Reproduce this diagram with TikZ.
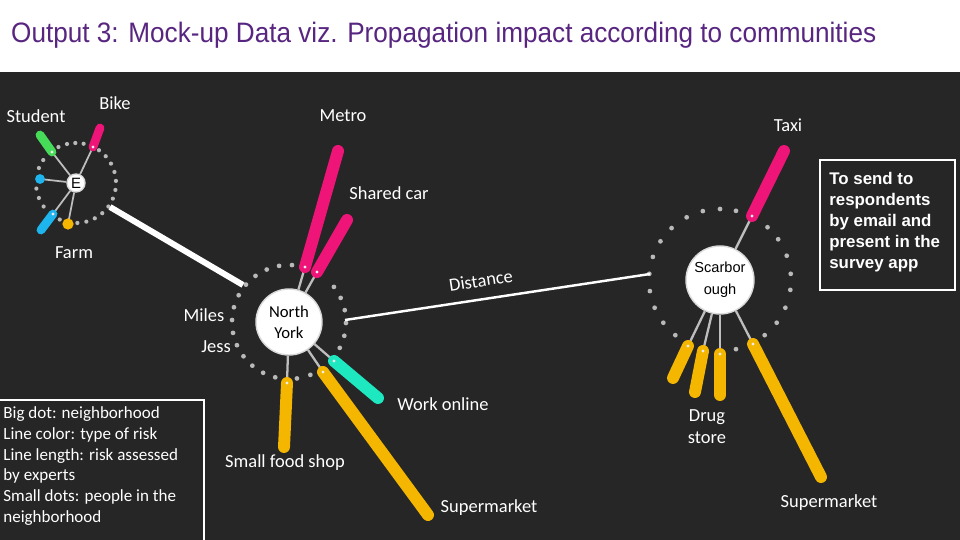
\documentclass[tikz,border=0pt]{standalone}
\usepackage{fontspec}
\setmainfont{Carlito}
\newfontfamily\arialfont{Liberation Sans}
\definecolor{panel}{RGB}{38,38,38}
\definecolor{titlepurple}{RGB}{88,38,128}
\definecolor{riskpink}{RGB}{238,20,120}
\definecolor{riskgreen}{RGB}{70,220,90}
\definecolor{riskblue}{RGB}{30,180,238}
\definecolor{riskyellow}{RGB}{245,182,0}
\definecolor{riskteal}{RGB}{30,232,192}
\definecolor{dotgray}{RGB}{185,185,185}
\definecolor{linkgray}{RGB}{190,190,190}

\begin{document}
\begin{tikzpicture}[
    x=0.02cm, y=-0.02cm,
    hub/.style={circle, fill=white, draw=black!15, line width=0.8pt, text=black, inner sep=0pt, align=center},
    link/.style={draw=linkgray, line width=1.3pt},
    risk/.style={line width=6.8pt, line cap=round},
    smallrisk/.style={line width=5pt, line cap=round},
    lbl/.style={text=white, font=\fontsize{10.5}{12.5}\selectfont},
    ringdot/.style={fill=dotgray},
    tip/.style={fill=white!85!gray}
]

\useasboundingbox (0,0) rectangle (960,540);
\fill[white] (0,0) rectangle (960,72);
\fill[panel] (0,72) rectangle (960,540);

\node[anchor=west, text=titlepurple, font=\arialfont\fontsize{16}{19}\selectfont] (title) at (5,35)
  {\scalebox{0.93}[1]{Output 3: Mock-up Data viz. Propagation impact according to communities}};

% hubs
\node[hub, minimum size=0.36cm, font=\arialfont\fontsize{8.5}{9}\selectfont] (e) at (76,183) {E};
\node[hub, minimum size=1.32cm, font=\fontsize{9.5}{12}\selectfont] (ny) at (289,322) {North\\York};
\node[hub, minimum size=1.36cm, font=\arialfont\fontsize{8.3}{12.5}\selectfont] (sc) at (720,280) {Scarbor\\ough};

% rings of people
\foreach \a in {-88,-75,...,55,79,91,103,116,145,158,-172,-158,-144,-114}
  \fill[ringdot] (e) ++({-\a}:40) circle[radius=1.2pt];
\foreach \a in {87,100,...,256,-82,-68,-27,-14,...,46}
  \fill[ringdot] (ny) ++({-\a}:57) circle[radius=1.35pt];
\foreach \a in {77,90,104,118,133,147,161,175,189,203,217,231,-77,-51,-37,-23,-8,5,20,35,48}
  \fill[ringdot] (sc) ++({-\a}:71) circle[radius=1.35pt];

% end points of the risk lines
\coordinate (stuA) at (52,152);   \coordinate (stuB) at (40,135);
\coordinate (bikeA) at (93,147);  \coordinate (bikeB) at (100,128);
\coordinate (blueA) at (53,214);  \coordinate (blueB) at (41,230);
\coordinate (bluedot) at (40,179);
\coordinate (farmdot) at (68,224);

\coordinate (metroA) at (305,267); \coordinate (metroB) at (338,151);
\coordinate (carA) at (317,272);   \coordinate (carB) at (347,220);
\coordinate (workA) at (334,361);  \coordinate (workB) at (378,398);
\coordinate (superA) at (323,372); \coordinate (superB) at (428,515);
\coordinate (foodA) at (287,383);  \coordinate (foodB) at (284,447);

\coordinate (taxiA) at (752,216);  \coordinate (taxiB) at (784,151);
\coordinate (drugA) at (688,346);  \coordinate (drugB) at (673,378);
\coordinate (drugC) at (703,351);  \coordinate (drugD) at (695,392);
\coordinate (drugE) at (720,354);  \coordinate (drugF) at (720,395);
\coordinate (marketA) at (753,344); \coordinate (marketB) at (821,477);

\coordinate (eout) at (110,207);  \coordinate (nyin) at (243,285);
\coordinate (nyout) at (345,320); \coordinate (scin) at (650,274);

% links between neighborhoods
\draw[white, line width=3.4pt] (eout) -- (nyin);
\draw[white, line width=1.4pt] (nyout) -- node[lbl, above, sloped, yshift=3pt, xshift=-8pt] {Distance} (scin);

% spokes
\foreach \p in {stuA,bikeA,blueA,bluedot,farmdot}
  \draw[link, line width=1pt] (e) -- (\p);
\foreach \p in {metroA,carA,workA,superA,foodA}
  \draw[link] (ny) -- (\p);
\foreach \p in {taxiA,drugA,drugC,drugE,marketA}
  \draw[link] (sc) -- (\p);

% risks
\draw[smallrisk, riskgreen] (stuA) -- (stuB);
\draw[smallrisk, riskpink] (bikeA) -- (bikeB);
\draw[smallrisk, riskblue] (blueA) -- (blueB);
\fill[riskblue] (bluedot) circle[radius=2.8pt];
\fill[riskyellow] (farmdot) circle[radius=3.2pt];

\draw[risk, riskpink] (metroA) -- (metroB);
\draw[risk, riskpink] (carA) -- (carB);
\draw[risk, riskteal] (workA) -- (workB);
\draw[risk, riskyellow] (superA) -- (superB);
\draw[risk, riskyellow] (foodA) -- (foodB);

\draw[risk, riskpink] (taxiA) -- (taxiB);
\draw[risk, riskyellow] (drugA) -- (drugB);
\draw[risk, riskyellow] (drugC) -- (drugD);
\draw[risk, riskyellow] (drugE) -- (drugF);
\draw[risk, riskyellow] (marketA) -- (marketB);

\foreach \p in {stuA,bikeA,blueA,metroA,carA,workA,superA,foodA,taxiA,drugA,drugC,drugE,marketA}
  \fill[tip] (\p) circle[radius=0.9pt];

% labels
\node[lbl] (student) at (36,116) {Student};
\node[lbl] (bike) at (115,103) {Bike};
\node[lbl] (farm) at (74,253) {Farm};
\node[lbl] (metro) at (343,116) {Metro};
\node[lbl] (sharedcar) at (389,193) {Shared car};
\node[lbl] (miles) at (204,315) {Miles};
\node[lbl] (jess) at (216,347) {Jess};
\node[lbl] (workonline) at (443,404) {Work online};
\node[lbl] (foodshop) at (285,463) {Small food shop};
\node[lbl] (supermarket) at (489,508) {Supermarket};
\node[lbl] (taxi) at (788,125) {Taxi};
\node[lbl, align=center] (drugstore) at (707,427) {Drug\\store};
\node[lbl] (supermarket2) at (829,503) {Supermarket};

% note and legend
\draw[white, line width=0.6pt] (820,160) rectangle (955,290);
\node[anchor=north west, text=white, align=left, inner sep=0pt,
      font=\arialfont\bfseries\fontsize{9.6}{11.9}\selectfont] (note) at (829,172)
  {To send to\\respondents\\by email and\\present in the\\survey app};

\draw[white, line width=0.6pt] (-2,400) rectangle (204,545);
\node[anchor=north west, text=white, align=left, inner sep=0pt,
      font=\fontsize{9.7}{11.9}\selectfont] (legend) at (3,406)
  {Big dot: neighborhood\\Line color: type of risk\\Line length: risk assessed\\by experts\\Small dots: people in the\\neighborhood};

\end{tikzpicture}
\end{document}
